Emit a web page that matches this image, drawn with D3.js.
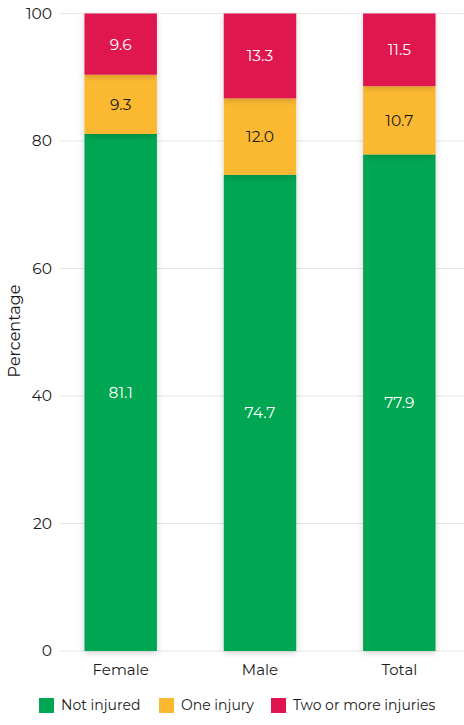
<!DOCTYPE html>
<html><head><meta charset="utf-8">
<script src="https://cdn.jsdelivr.net/npm/d3@7"></script>
<style>
body{margin:0;background:#fff;}
svg text{font-family:"Montserrat","Lato","Open Sans",sans-serif;}
</style>
</head><body>
<svg id="c" width="464" height="725"></svg>
<script>
const categories = ["Female","Male","Total"];
const seriesNames = ["Not injured","One injury","Two or more injuries"];
const notInjured = [81.1, 74.7, 77.9];
const oneInjury = [9.3, 12.0, 10.7];
const twoOrMore = [9.6, 13.3, 11.5];
const yTicks = [0,20,40,60,80,100];
const colors = ["#00a651","#fbb931","#e0144f"];
const labelColors = ["#ffffff","#1a1a1a","#ffffff"];

const svg = d3.select("#c");
const defs = svg.append("defs");
const f = defs.append("filter").attr("id","sh").attr("x","-30%").attr("y","-10%").attr("width","160%").attr("height","120%");
f.append("feDropShadow").attr("dx",0).attr("dy",2).attr("stdDeviation",3).attr("flood-color","#000").attr("flood-opacity",0.18);

const y = d3.scaleLinear().domain([0,100]).range([651,13.5]);
const x = d3.scaleBand().domain(categories).range([51,469]).paddingInner(0.48).paddingOuter(0.24);

// gridlines
svg.append("g").selectAll("line").data(yTicks).join("line")
  .attr("x1",59).attr("x2",464).attr("y1",d=>y(d)).attr("y2",d=>y(d))
  .attr("stroke","#e6e6e6").attr("stroke-width",1);

// y axis
const yAxis = svg.append("g").attr("transform","translate(59,0)")
  .call(d3.axisLeft(y).tickValues(yTicks).tickSize(0).tickPadding(7));
yAxis.select(".domain").remove();
yAxis.selectAll("text").attr("font-size",15.5).attr("fill","#1a1a1a")
  .style("font-family","'Montserrat','Lato','Open Sans',sans-serif");

svg.append("text").attr("transform","translate(20,331) rotate(-90)")
  .attr("text-anchor","middle").attr("font-size",16).attr("fill","#1a1a1a").text("Percentage");

// x axis
const xAxis = svg.append("g").attr("transform","translate(0,651)")
  .call(d3.axisBottom(x).tickSize(0).tickPadding(13));
xAxis.select(".domain").remove();
xAxis.selectAll("text").attr("font-size",15).attr("fill","#1a1a1a")
  .style("font-family","'Montserrat','Lato','Open Sans',sans-serif");

// stacked data
const rows = categories.map((c,i)=>({cat:c, s0:notInjured[i], s1:oneInjury[i], s2:twoOrMore[i]}));
const stack = d3.stack().keys(["s0","s1","s2"])(rows);

const gBars = svg.append("g");
stack.forEach((layer,li)=>{
  gBars.append("g").selectAll("rect").data(layer).join("rect")
    .attr("x",d=>x(d.data.cat)).attr("width",x.bandwidth())
    .attr("y",d=>y(Math.min(d[1],100))).attr("height",d=>y(d[0])-y(Math.min(d[1],100)))
    .attr("fill",colors[li]).attr("filter","url(#sh)");
});
stack.forEach((layer,li)=>{
  gBars.append("g").selectAll("text").data(layer).join("text")
    .attr("x",d=>x(d.data.cat)+x.bandwidth()/2)
    .attr("y",d=>(y(d[0])+y(Math.min(d[1],100)))/2)
    .attr("dy","0.35em").attr("text-anchor","middle")
    .attr("font-size",15.5).attr("fill",labelColors[li])
    .text(d=>(d[1]-d[0]).toFixed(1));
});

// legend
const legendX = [39,159,271];
const lg = svg.append("g");
seriesNames.forEach((n,i)=>{
  lg.append("rect").attr("x",legendX[i]).attr("y",698).attr("width",15).attr("height",15).attr("fill",colors[i]);
  lg.append("text").attr("x",legendX[i]+22).attr("y",705.5).attr("dy","0.35em")
    .attr("font-size",14).attr("fill","#1a1a1a").text(n);
});
</script>
</body></html>
